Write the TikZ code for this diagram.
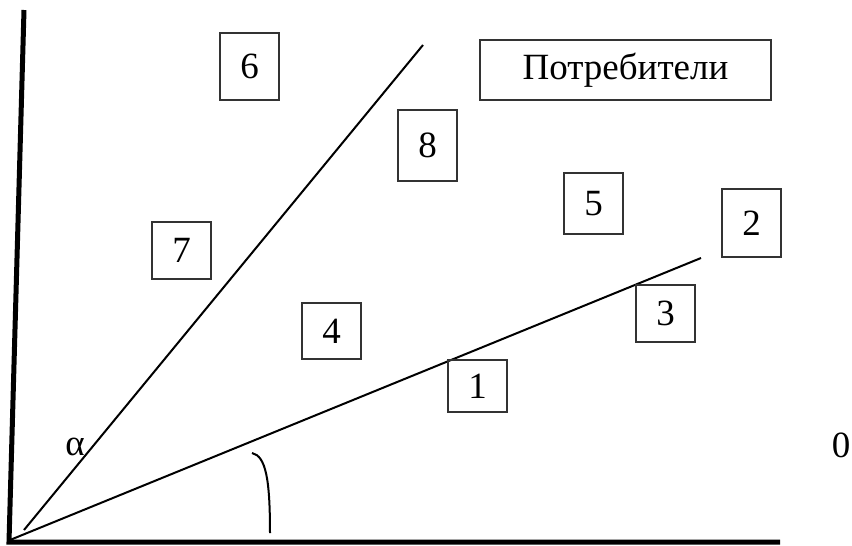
\documentclass[tikz,border=0pt]{standalone}
\usepackage{fontspec}
\setmainfont{Liberation Serif}
\begin{document}
\begin{tikzpicture}[x=1pt,y=-1pt,
  numbox/.style={draw=black!80,line width=1.3pt,inner sep=0pt,minimum width=59pt,
    font=\fontsize{37}{44}\selectfont},
  lbl/.style={inner sep=0pt,font=\fontsize{37}{44}\selectfont},
  axis/.style={line width=5pt},
  ray/.style={line width=2pt},
]
\useasboundingbox (0,0) rectangle (852,546);
% axes
\coordinate (O) at (9,542);
\coordinate (ytop) at (24,10);
\coordinate (xend) at (780,542);
\draw[axis] (ytop) -- (O) -- (xend);
% rays
\coordinate (r1s) at (24,530);
\coordinate (r1e) at (423,45);
\coordinate (r2s) at (10,540);
\coordinate (r2e) at (701,258);
\draw[ray] (r1s) -- (r1e);
\draw[ray] (r2s) -- (r2e);
% angle arc
\coordinate (a1) at (252,453);
\coordinate (a2) at (270,533);
\draw[ray] (a1) .. controls (266,456) and (270,480) .. (a2);
% boxes
\node[numbox,minimum height=52pt] (b1) at (477.5,386) {1};
\node[numbox,minimum height=68pt] (b2) at (751.5,223) {2};
\node[numbox,minimum height=57pt] (b3) at (665.5,313.5) {3};
\node[numbox,minimum height=56pt] (b4) at (331.5,331) {4};
\node[numbox,minimum height=61pt] (b5) at (593.5,203.5) {5};
\node[numbox,minimum height=67pt] (b6) at (249.5,66.5) {6};
\node[numbox,minimum height=57pt] (b7) at (181.5,250.5) {7};
\node[numbox,minimum height=71pt] (b8) at (427.5,145.5) {8};
\node[numbox,minimum width=291pt,minimum height=60pt] (cons) at (625.5,70) {Потребители};
% labels
\node[lbl] (alpha) at (75,447) {α};
\node[lbl] (zero) at (841,445) {0};
\end{tikzpicture}
\end{document}
